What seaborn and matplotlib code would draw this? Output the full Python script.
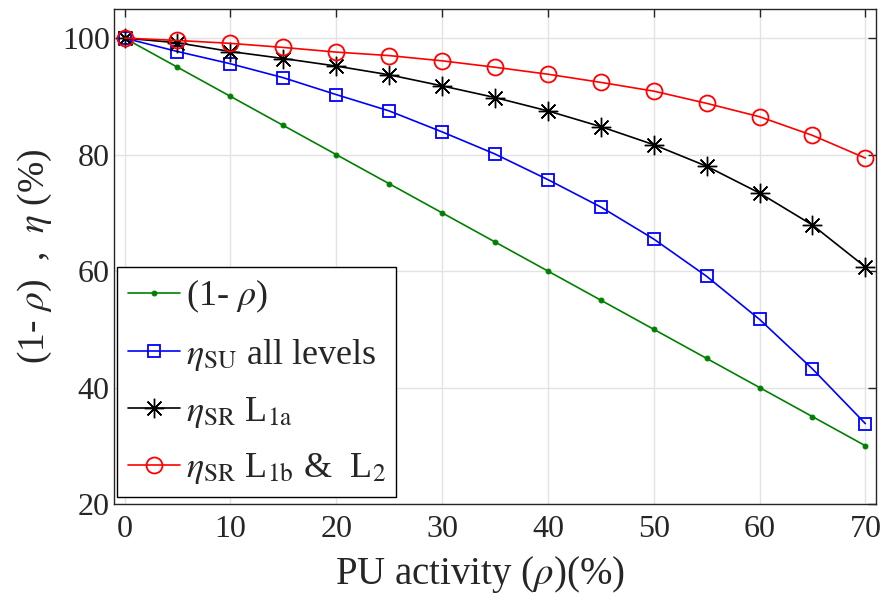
import numpy as np
import pandas as pd
import matplotlib
matplotlib.use("Agg")
import matplotlib.pyplot as plt
import seaborn as sns

# PU activity levels (%)
rho = [0, 5, 10, 15, 20, 25, 30, 35, 40, 45, 50, 55, 60, 65, 70]

# (1 - rho) reference line
one_minus_rho = [100, 95, 90, 85, 80, 75, 70, 65, 60, 55, 50, 45, 40, 35, 30]

# SU efficiency, all levels
eta_su = [100, 97.7, 95.6, 93.2, 90.3, 87.5, 83.9, 80.1, 75.7, 71.0,
          65.5, 59.1, 51.7, 43.2, 33.8]

# SR efficiency, level L1a
eta_sr_l1a = [100, 99.2, 97.7, 96.5, 95.2, 93.7, 91.8, 89.8, 87.5, 84.8,
              81.7, 78.0, 73.4, 67.9, 60.7]

# SR efficiency, levels L1b & L2
eta_sr_l1b_l2 = [100, 99.6, 99.1, 98.4, 97.6, 97.0, 96.1, 95.0, 93.8, 92.4,
                 90.9, 88.8, 86.5, 83.3, 79.4]

x_ticks = [0, 10, 20, 30, 40, 50, 60, 70]
y_ticks = [20, 40, 60, 80, 100]

sns.set_theme(style="white")
plt.rcParams["font.family"] = ["Liberation Serif", "DejaVu Serif"]
plt.rcParams["mathtext.fontset"] = "stix"

fig = plt.figure(figsize=(8.85, 6.0), dpi=100)
ax = fig.add_axes([0.1288, 0.16, 0.861, 0.825])

lw = 1.2
series = [
    (one_minus_rho, "#008000", dict(marker="o", markersize=3.5,
                                    markerfacecolor="#008000",
                                    markeredgecolor="#008000"),
     "(1- $\\rho$)"),
    (eta_su, "#0000ff", dict(marker="s", markersize=9,
                             markerfacecolor="none",
                             markeredgecolor="#0000ff",
                             markeredgewidth=1.3),
     "$\\eta_{\\rm SU}$ all levels"),
    (eta_sr_l1a, "black", dict(marker=(8, 2, 0), markersize=14,
                               markerfacecolor="none",
                               markeredgecolor="black",
                               markeredgewidth=1.0),
     "$\\eta_{\\rm SR}$ L$_{\\rm 1a}$"),
    (eta_sr_l1b_l2, "#ff0000", dict(marker="o", markersize=11.5,
                                    markerfacecolor="none",
                                    markeredgecolor="#ff0000",
                                    markeredgewidth=1.3),
     "$\\eta_{\\rm SR}$ L$_{\\rm 1b}$ &  L$_{2}$"),
]

handles = []
for values, color, mk, label in series:
    df = pd.DataFrame({"rho": rho, "val": values})
    sns.lineplot(data=df, x="rho", y="val", color=color, linewidth=lw,
                 ax=ax, label=label, legend=False, **mk)
    handles.append(ax.get_lines()[-1])

ax.set_xlim(-1, 71)
ax.set_ylim(20, 105)
ax.set_xticks(x_ticks)
ax.set_yticks(y_ticks)
ax.grid(True, color="#e3e3e3", linewidth=1.0)
ax.set_axisbelow(True)

ax.tick_params(direction="in", length=6, width=1.0, top=True, right=True,
               labelsize=23, colors="#262626", labelcolor="#262626")
ax.tick_params(axis="x", pad=8)
ax.tick_params(axis="y", pad=3)
for s in ax.spines.values():
    s.set_color("#262626")
    s.set_linewidth(1.0)
    s.set_visible(True)

ax.set_xlabel("PU activity ($\\rho$)(%)", fontsize=28, color="#262626")
ax.set_ylabel("(1- $\\rho$)  ,  $\\eta$ (%)", fontsize=27, color="#262626",
              labelpad=6)
ax.xaxis.set_label_coords(0.48, -0.102)

leg = ax.legend(handles=handles, labels=[s[3] for s in series],
                loc="lower left", bbox_to_anchor=(0.004, 0.014),
                fontsize=26, frameon=True, fancybox=False, framealpha=1,
                edgecolor="black", handlelength=1.45, handletextpad=0.15,
                borderpad=0.3, labelspacing=0.6, borderaxespad=0.0)
leg.get_frame().set_linewidth(1.0)

fig.savefig("out.png", dpi=100)
